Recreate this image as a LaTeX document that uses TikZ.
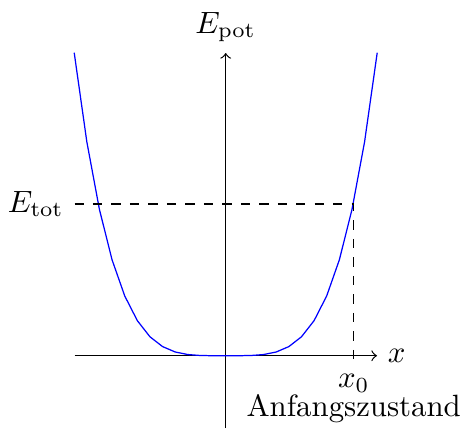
\documentclass[tikz,border=0pt]{standalone}
\begin{document}
\begin{tikzpicture}[x=0.3247pt,y=-0.3247pt,
  axisline/.style={->},
  curveline/.style={blue},
  guideline/.style={dashed}]
\useasboundingbox (0,0) rectangle (465,428);
\coordinate (xs) at (74.5,355.7);
\coordinate (xe) at (377,355.7);
\coordinate (yb) at (225.7,428);
\coordinate (ye) at (225.7,53);
\draw[axisline] (xs) -- (xe);
\node[right] (xl) at (xe) {$x$};
\draw[axisline] (yb) -- (ye);
\node[above] (yl) at (ye) {$E_{\mathrm{pot}}$};
\draw[curveline] plot[domain=-151.5:151.5, samples=25] ({225.7+\x},{355.7-303*(\x/151.5)^4});
\coordinate (Et) at (74.5,204);
\coordinate (P) at (353.7,204);
\coordinate (Q) at (353.7,363.3);
\node[left] (etl) at (Et) {$E_{\mathrm{tot}}$};
\draw[guideline] (Et) -- (P) -- (Q);
\node[below] (x0) at (Q) {$x_0$};
\node[anchor=base] (anf) at ([yshift=-9.4pt]x0.base) {Anfangszustand};
\end{tikzpicture}
\end{document}
